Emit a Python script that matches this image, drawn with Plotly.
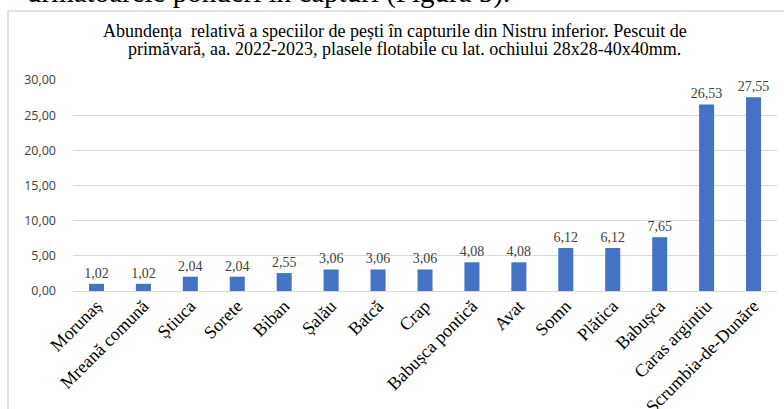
import plotly.graph_objects as go

species = ["Morunaș", "Mreană comună", "Știuca", "Sorete", "Biban", "Șalău", "Batcă",
           "Crap", "Babușca pontică", "Avat", "Somn", "Plătica", "Babușca",
           "Caras argintiu", "Scrumbia-de-Dunăre"]
abundance = [1.02, 1.02, 2.04, 2.04, 2.55, 3.06, 3.06, 3.06, 4.08, 4.08, 6.12, 6.12, 7.65, 26.53, 27.55]
y_ticks = [0, 5, 10, 15, 20, 25, 30]

title_line1 = "Abundența  relativă a speciilor de pești în capturile din Nistru inferior. Pescuit de"
title_line2 = "primăvară, aa. 2022-2023, plasele flotabile cu lat. ochiului 28x28-40x40mm."
top_text = "următoarele ponderi în capturi (Figura 5)."

W, H = 784, 409
L, R, T, B = 73, 7, 80, 118
pw, ph = W - L - R, H - T - B

def px(x):
    return (x - L) / pw

def py(y):
    return (H - B - y) / ph

fig = go.Figure(go.Bar(
    x=species, y=abundance,
    marker=dict(color="#4472C4", line=dict(width=0)),
    text=[f"{v:.2f}".replace(".", ",") for v in abundance],
    textposition="outside",
    constraintext="none",
    textfont=dict(family="Liberation Serif", size=14, color="#404040"),
    cliponaxis=False,
))

title_font = dict(family="Liberation Serif", size=18, color="#000000")

fig.update_layout(
    width=W, height=H,
    margin=dict(l=L, r=R, t=T, b=B, autoexpand=False),
    paper_bgcolor="white", plot_bgcolor="white",
    separators=",.",
    bargap=0.68,
    showlegend=False,
    xaxis=dict(tickangle=-45, tickfont=dict(family="Liberation Serif", size=18, color="#000000"),
               showline=False, ticks="", showgrid=False, automargin=False),
    yaxis=dict(range=[0, 30], tickvals=y_ticks, tickformat=".2f",
               tickfont=dict(family="Open Sans", size=12.5, color="#404040"),
               gridcolor="#d9d9d9", gridwidth=1, zeroline=True, zerolinecolor="#d9d9d9",
               zerolinewidth=1, showline=False, ticks="", ticklabelstandoff=16,
               automargin=False),
    shapes=[dict(type="rect", xref="paper", yref="paper",
                 x0=px(8), x1=px(800), y0=py(430), y1=py(11),
                 line=dict(color="#d9d9d9", width=1.5), fillcolor="rgba(0,0,0,0)", layer="below")],
    annotations=[
        dict(text=title_line1, xref="paper", yref="paper", x=px(395), y=py(31),
             xanchor="center", yanchor="middle", showarrow=False, font=title_font),
        dict(text=title_line2, xref="paper", yref="paper", x=px(404), y=py(49),
             xanchor="center", yanchor="middle", showarrow=False, font=title_font),
        dict(text=top_text, xref="paper", yref="paper", x=px(512), y=py(11),
             xanchor="right", yanchor="bottom", showarrow=False,
             font=dict(family="Liberation Serif", size=29, color="#000000")),
    ],
)

fig.write_html("out.html", config={"displayModeBar": False},
               post_script="document.body.style.margin='0';document.body.style.overflow='hidden';")
